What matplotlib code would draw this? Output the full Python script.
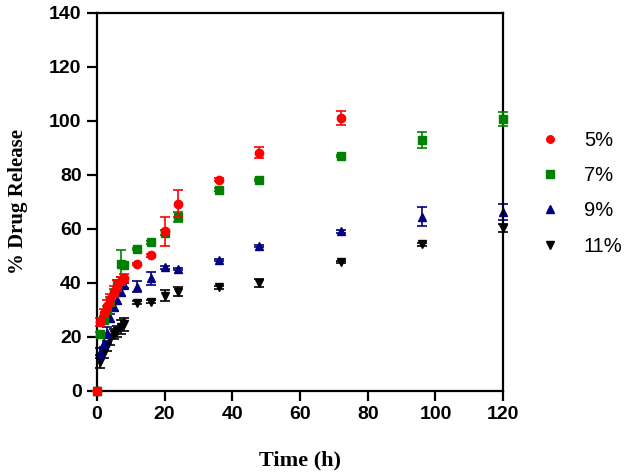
import numpy as np
import matplotlib
matplotlib.use("Agg")
import matplotlib.pyplot as plt

# Sampling times (h)
time = [0, 1, 2, 3, 4, 5, 6, 7, 8, 12, 16, 20, 24, 36, 48, 72, 96, 120]

# % drug release for each formulation, with error bars
rel_5 = [0, 25.3, 28.6, 31.5, 33.8, 36.7, 38.8, 40.5, 41.6, 46.9, 50.1, 59.0, 69.3, 78.1, 88.2, 101.0]
err_5 = [0, 1.5, 1.5, 2, 2, 2, 2, 1.5, 1.5, 0.5, 0.5, 5.5, 5, 0.5, 2, 2.5]

rel_7 = [0, 20.8, 26, 30, 33, 36, 39.5, 47, 46.5, 52.5, 55, 58.5, 64.3, 74.5, 78, 86.9, 92.9, 100.6]
err_7 = [0, 1, 1.5, 1.5, 1.5, 1.5, 1.5, 5, 1, 0.5, 0.5, 1, 2, 0.5, 0.5, 0.5, 3, 2.5]

rel_9 = [0, 13.9, 17.5, 21.5, 27, 31, 33.5, 36.5, 39, 38.5, 41.6, 45.7, 45, 48.4, 53.6, 59, 64.5, 66.3]
err_9 = [0, 2, 2, 2, 1.5, 1.5, 1.5, 1.5, 1, 2, 2.5, 0.5, 0.5, 0.5, 0.5, 0.5, 3.5, 3]

rel_11 = [0, 10.7, 14, 16.5, 19, 21, 22, 23.5, 24.5, 32.6, 32.9, 35.2, 36.7, 38.3, 40, 47.6, 54.2, 60.4]
err_11 = [0, 2.5, 2, 2, 2, 2, 2, 2.5, 2.5, 0.5, 0.5, 2, 1.5, 0.5, 1.5, 0.5, 0.5, 1.5]

labels = ["5%", "7%", "9%", "11%"]

fig = plt.figure(figsize=(6.29, 4.74), dpi=100)
ax = fig.add_axes([0.154, 0.176, 0.646, 0.797])

series = [
    (rel_5, err_5, "o", "#ff0000", 4),
    (rel_7, err_7, "s", "#008000", 3),
    (rel_9, err_9, "^", "#000080", 2),
    (rel_11, err_11, "v", "#000000", 1),
]
handles = []
for (y, e, m, c, z), lab in zip(series, labels):
    t = time[:len(y)]
    h = ax.errorbar(t, y, yerr=e, fmt=m, color=c, ms=6, mec=c,
                    capsize=3.5, elinewidth=1.2, capthick=1.2, zorder=z,
                    label=lab, clip_on=False)
    handles.append(h[0])

ax.set_xlim(0, 120)
ax.set_ylim(0, 140)
ax.set_xticks(range(0, 121, 20))
ax.set_yticks(range(0, 141, 20))
for s in ax.spines.values():
    s.set_linewidth(1.6)
ax.tick_params(length=7, width=1.6, labelsize=14, pad=4)
for lbl in ax.get_xticklabels() + ax.get_yticklabels():
    lbl.set_fontfamily("Liberation Sans")
    lbl.set_fontweight("bold")

ax.set_xlabel("Time (h)", fontfamily="Liberation Serif", fontweight="bold",
              fontsize=16, labelpad=20)
ax.set_ylabel("% Drug Release", fontfamily="Liberation Serif", fontweight="bold",
              fontsize=15)
ax.yaxis.set_label_coords(-0.17, 0.5)

fig.legend(handles, labels, loc="center left", bbox_to_anchor=(0.845, 0.592),
           frameon=False, prop={"family": "Liberation Sans", "size": 14.5},
           handlelength=0.8, handletextpad=1.3, labelspacing=0.8,
           markerscale=0.9, borderpad=0)

fig.savefig("out.png", dpi=100)
